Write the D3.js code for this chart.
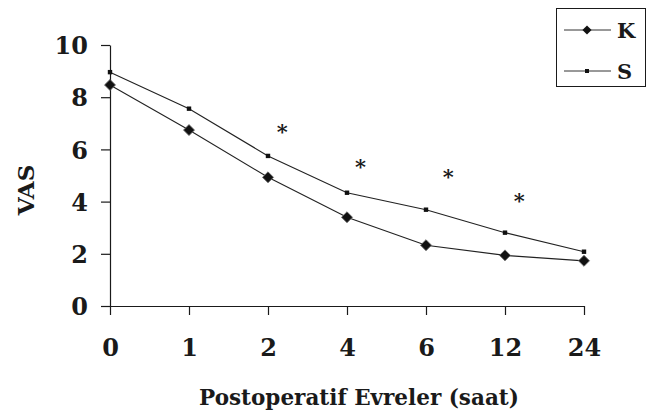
<!DOCTYPE html>
<html>
<head>
<meta charset="utf-8">
<script src="https://cdn.jsdelivr.net/npm/d3@7/dist/d3.min.js"></script>
<style>
  html, body { margin: 0; padding: 0; background: #fff; }
  svg { display: block; }
  text { font-family: "DejaVu Serif", "Liberation Serif", serif; font-weight: bold; fill: #1a1a1a; }
</style>
</head>
<body>
<svg id="chart" width="648" height="414"></svg>
<script>
// ---- data ----
const categories = ["0", "1", "2", "4", "6", "12", "24"];
const seriesK = [8.47, 6.74, 4.93, 3.40, 2.33, 1.94, 1.73];
const seriesS = [8.96, 7.56, 5.75, 4.34, 3.69, 2.81, 2.08];
const yTicks = [0, 2, 4, 6, 8, 10];
const asteriskPos = [2.18, 3.17, 4.28, 5.18];   // position along category index
const asteriskVal = [6.81, 5.47, 5.10, 4.19];    // VAS level of asterisk
const legendNames = ["K", "S"];
const xTitle = "Postoperatif Evreler (saat)";
const yTitle = "VAS";

// ---- layout ----
const svg = d3.select("#chart");
const mLeft = 110, mRight = 584, mTop = 45, mBottom = 306;

const xIdx = d3.scaleLinear().domain([0, categories.length - 1]).range([mLeft, mRight]);
const x = d3.scalePoint().domain(categories).range([mLeft, mRight]);
const y = d3.scaleLinear().domain([0, 10]).range([mBottom, mTop]);

const ink = "#1a1a1a";

// y axis
const yAxis = svg.append("g").attr("transform", `translate(${mLeft},0)`)
  .call(d3.axisLeft(y).tickValues(yTicks).tickSize(9).tickSizeOuter(0).tickPadding(13));
yAxis.select(".domain").attr("stroke", ink).attr("stroke-width", 1.2);
yAxis.selectAll(".tick line").attr("stroke", ink).attr("stroke-width", 1.2);
yAxis.selectAll(".tick text").attr("font-size", 24).attr("font-family", "DejaVu Serif").attr("font-weight", "bold").attr("fill", ink).attr("dy", "0.36em");

// x axis
const xAxis = svg.append("g").attr("transform", `translate(0,${mBottom})`)
  .call(d3.axisBottom(x).tickSize(9).tickSizeOuter(0).tickPadding(24));
xAxis.select(".domain").attr("stroke", ink).attr("stroke-width", 1.2);
xAxis.selectAll(".tick line").attr("stroke", ink).attr("stroke-width", 1.2);
xAxis.selectAll(".tick text").attr("font-size", 24).attr("font-family", "DejaVu Serif").attr("font-weight", "bold").attr("fill", ink).attr("dy", "0.71em");

// lines
const line = d3.line().x((d, i) => x(categories[i])).y(d => y(d));
svg.append("path").datum(seriesS).attr("d", line).attr("fill", "none").attr("stroke", "#222").attr("stroke-width", 1.1);
svg.append("path").datum(seriesK).attr("d", line).attr("fill", "none").attr("stroke", "#222").attr("stroke-width", 1.1);

// markers
svg.append("g").selectAll("path").data(seriesK).join("path")
  .attr("transform", (d, i) => `translate(${x(categories[i])},${y(d)}) rotate(45)`)
  .attr("d", d3.symbol().type(d3.symbolSquare).size(60))
  .attr("fill", "#111").attr("stroke", "#666").attr("stroke-width", 0.8);
svg.append("g").selectAll("rect").data(seriesS).join("rect")
  .attr("x", (d, i) => x(categories[i]) - 2.2).attr("y", d => y(d) - 2.2)
  .attr("width", 4.4).attr("height", 4.4).attr("fill", "#111");

// asterisks
svg.append("g").selectAll("text").data(asteriskVal).join("text")
  .attr("x", (d, i) => xIdx(asteriskPos[i]))
  .attr("y", d => y(d) + 11)
  .attr("text-anchor", "middle")
  .attr("font-size", 21).attr("font-weight", "normal").attr("fill", "#333")
  .text("*");

// axis titles
svg.append("text").attr("x", 359).attr("y", 405).attr("text-anchor", "middle").attr("font-size", 21.5).text(xTitle);
svg.append("text").attr("transform", "translate(34,190) rotate(-90)").attr("text-anchor", "middle").attr("font-size", 23).text(yTitle);

// legend
const lg = svg.append("g");
lg.append("rect").attr("x", 556.5).attr("y", 8.5).attr("width", 89).attr("height", 78).attr("fill", "#fff").attr("stroke", ink).attr("stroke-width", 1);
const rowsY = [30, 71];
legendNames.forEach((name, i) => {
  lg.append("line").attr("x1", 564).attr("x2", 611).attr("y1", rowsY[i]).attr("y2", rowsY[i]).attr("stroke", "#333").attr("stroke-width", 1);
  lg.append("text").attr("x", 617).attr("y", rowsY[i] + 7.5).attr("font-size", 21).text(name);
});
lg.append("path").attr("transform", `translate(587,${rowsY[0]}) rotate(45)`).attr("d", d3.symbol().type(d3.symbolSquare).size(42)).attr("fill", "#111");
lg.append("rect").attr("x", 587 - 2).attr("y", rowsY[1] - 2).attr("width", 4).attr("height", 4).attr("fill", "#111");
</script>
</body>
</html>
